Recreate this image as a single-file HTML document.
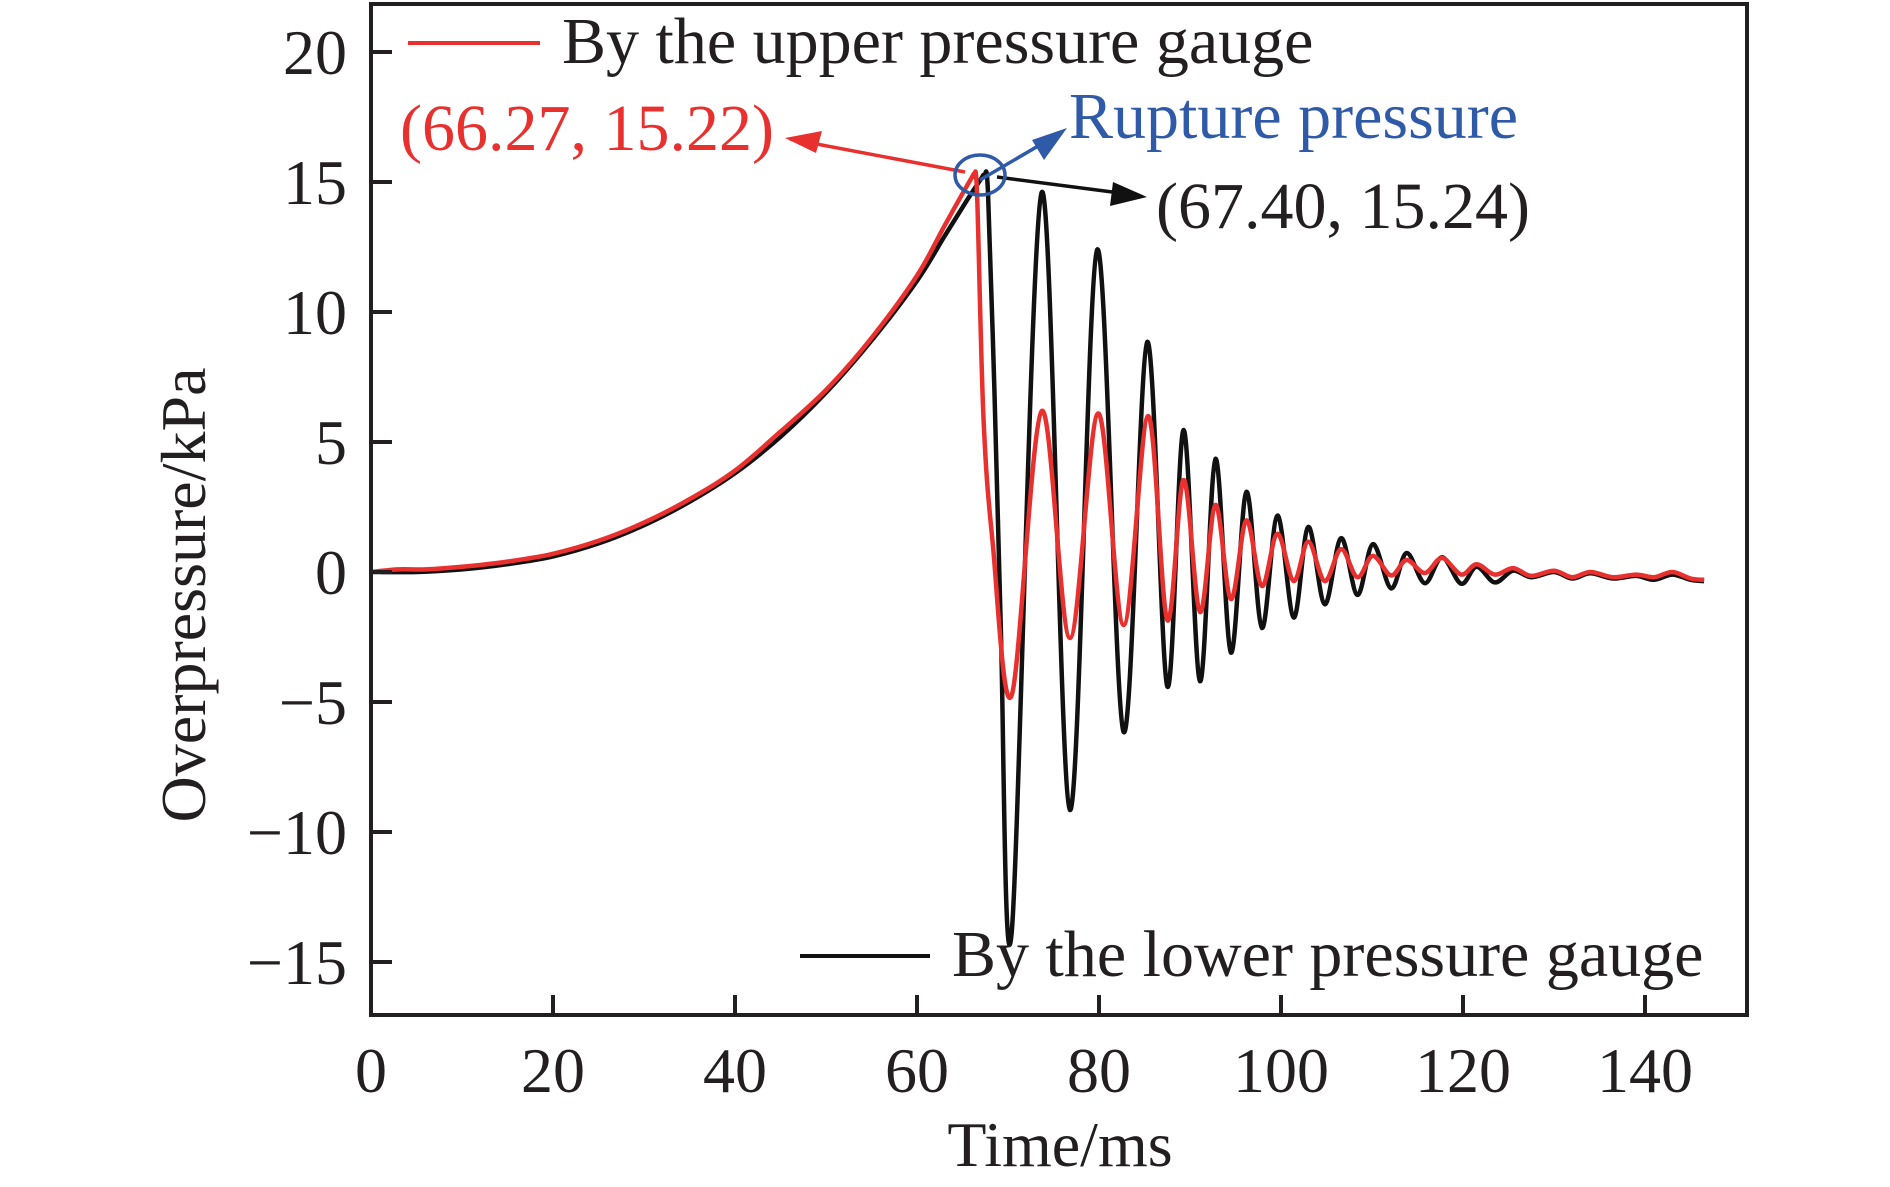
<!DOCTYPE html>
<html><head><meta charset="utf-8"><style>
body{margin:0;background:#fff;}
svg text{font-family:"Liberation Serif",serif;}
</style></head><body>
<svg id="chart" width="1890" height="1182" viewBox="0 0 1890 1182" xmlns="http://www.w3.org/2000/svg">
<g id="plot"></g>
<g id="axes"></g>
<g id="ann">
<text x="562" y="63" font-size="66" fill="#231f20">By the upper pressure gauge</text>
<line x1="408" y1="43" x2="540" y2="43" stroke="#e8312f" stroke-width="4"/>
<text x="952" y="976" font-size="66" fill="#231f20">By the lower pressure gauge</text>
<line x1="800" y1="956" x2="930" y2="956" stroke="#111" stroke-width="4"/>
<text x="400" y="150" font-size="66" fill="#e8312f">(66.27, 15.22)</text>
<text x="1069" y="138" font-size="66" fill="#2f5aa8">Rupture pressure</text>
<text x="1156" y="228" font-size="66" fill="#231f20">(67.40, 15.24)</text>
<line x1="965" y1="172" x2="790" y2="139" stroke="#e8312f" stroke-width="3.5"/>
<polygon points="785,138 822,131 816,153" fill="#e8312f"/>
<line x1="997" y1="177" x2="1120" y2="193" stroke="#111" stroke-width="3.5"/>
<polygon points="1147,197 1110,206 1113,182" fill="#111"/>
<line x1="980" y1="180" x2="1045" y2="142" stroke="#2f5aa8" stroke-width="3.5"/>
<polygon points="1067,128 1044,160 1032,140" fill="#2f5aa8"/>
<ellipse cx="980" cy="175" rx="25" ry="20" fill="none" stroke="#2f5aa8" stroke-width="3.5"/>
<text x="1060" y="1166" font-size="64" text-anchor="middle" fill="#231f20">Time/ms</text>
<text transform="translate(205,595) rotate(-90)" font-size="64" text-anchor="middle" fill="#231f20">Overpressure/kPa</text>
</g>
</svg>
<script>
const xTicks=[0,20,40,60,80,100,120,140];
const yTicks=[-15,-10,-5,0,5,10,15,20];
const yTickLabels=["\u221215","\u221210","\u22125","0","5","10","15","20"];
const lowerT=[0,5,10,15,20,25,30,35,40,45,50,55,60,63,65.5,67.0,67.4,67.8,68.5,69.2,70.4,73.7,76.8,79.8,82.7,85.3,87.5,89.3,91.1,92.8,94.5,96.2,97.9,99.6,101.4,103,104.8,106.6,108.4,110.1,112.1,113.8,115.8,117.7,119.8,121.5,123.5,125.5,127.5,130,132,134,136.5,139,141,143,145,146.5];
const lowerV=[0,0,0.1,0.3,0.6,1.1,1.8,2.7,3.8,5.2,6.9,8.9,11.2,12.9,14.3,15.1,15.24,14.6,7,-2,-13.9,14.6,-9.15,12.4,-6.15,8.85,-4.4,5.46,-4.2,4.35,-3.1,3.08,-2.15,2.17,-1.75,1.73,-1.24,1.3,-0.88,1.07,-0.63,0.73,-0.43,0.57,-0.45,0.2,-0.4,0.05,-0.2,0,-0.25,-0.05,-0.25,-0.15,-0.3,-0.1,-0.3,-0.35];
const upperT=[0,3,6,10,15,20,25,30,35,40,45,50,55,60,63,65.9,66.27,66.6,67.3,68.3,70.4,73.7,76.8,79.9,82.7,85.4,87.5,89.3,91.1,92.8,94.5,96.2,97.9,99.6,101.4,103,104.8,106.6,108.4,110.1,112.1,113.8,115.8,117.7,119.8,121.5,123.5,125.5,127.5,130,132,134,136.5,139,141,143,145,146.5];
const upperV=[0,0.1,0.1,0.2,0.4,0.7,1.2,1.9,2.8,3.9,5.4,7.0,9.0,11.4,13.3,15.1,15.22,14.5,6,1.2,-4.75,6.19,-2.54,6.1,-2.04,6.0,-1.85,3.54,-1.54,2.58,-1.04,1.98,-0.54,1.47,-0.35,1.17,-0.35,0.88,-0.2,0.62,-0.13,0.46,-0.04,0.54,-0.1,0.3,-0.1,0.15,-0.15,0.05,-0.2,0,-0.2,-0.1,-0.2,0,-0.25,-0.3];
const X0=371,XS=9.1,Y0=572,YS=26;
function xs(t){return X0+t*XS;}
function ys(v){return Y0-v*YS;}
const NS="http://www.w3.org/2000/svg";
function mk(tag,parent){const e=document.createElementNS(NS,tag);parent.appendChild(e);return e;}
function pathFor(T,V){
  const P=T.map((t,i)=>[xs(t),ys(V[i])]);
  let d="M"+P[0][0].toFixed(1)+","+P[0][1].toFixed(1);
  for(let i=0;i<P.length-1;i++){
    const p0=P[Math.max(0,i-1)],p1=P[i],p2=P[i+1],p3=P[Math.min(P.length-1,i+2)];
    const c1=[p1[0]+(p2[0]-p0[0])/6,p1[1]+(p2[1]-p0[1])/6];
    const c2=[p2[0]-(p3[0]-p1[0])/6,p2[1]-(p3[1]-p1[1])/6];
    d+=" C"+c1.map(v=>v.toFixed(1)).join(",")+" "+c2.map(v=>v.toFixed(1)).join(",")+" "+p2.map(v=>v.toFixed(1)).join(",");
  }
  return d;
}
const plot=document.getElementById('plot');
const lower=mk('path',plot);


lower.setAttribute('d',pathFor(lowerT,lowerV));
lower.setAttribute('fill','none');lower.setAttribute('stroke','#111');lower.setAttribute('stroke-width','4.5');lower.setAttribute('stroke-linejoin','round');
const upper=mk('path',plot);


upper.setAttribute('d',pathFor(upperT,upperV));
upper.setAttribute('fill','none');upper.setAttribute('stroke','#e8312f');upper.setAttribute('stroke-width','4.5');upper.setAttribute('stroke-linejoin','round');
const axes=document.getElementById('axes');
const frame=mk('rect',axes);


frame.setAttribute('x',X0);frame.setAttribute('y',4);frame.setAttribute('width',1747-X0);frame.setAttribute('height',1015-4);
frame.setAttribute('fill','none');frame.setAttribute('stroke','#231f20');frame.setAttribute('stroke-width','4');
xTicks.forEach(t=>{
  const l=mk('line',axes);
  
  
  l.setAttribute('x1',xs(t));l.setAttribute('x2',xs(t));l.setAttribute('y1',1015);l.setAttribute('y2',995);
  l.setAttribute('stroke','#231f20');l.setAttribute('stroke-width','4');
  const tx=mk('text',axes);
  
  
  tx.setAttribute('x',xs(t));tx.setAttribute('y',1092);tx.setAttribute('font-size','64');tx.setAttribute('text-anchor','middle');tx.setAttribute('fill','#231f20');
  tx.textContent=String(t);
});
yTicks.forEach((v,i)=>{
  const l=mk('line',axes);
  
  
  l.setAttribute('x1',X0);l.setAttribute('x2',X0+21);l.setAttribute('y1',ys(v));l.setAttribute('y2',ys(v));
  l.setAttribute('stroke','#231f20');l.setAttribute('stroke-width','4');
  const tx=mk('text',axes);
  
  
  tx.setAttribute('x',347);tx.setAttribute('y',ys(v)+22);tx.setAttribute('font-size','64');tx.setAttribute('text-anchor','end');tx.setAttribute('fill','#231f20');
  tx.textContent=yTickLabels[i];
});
</script>
</body></html>
